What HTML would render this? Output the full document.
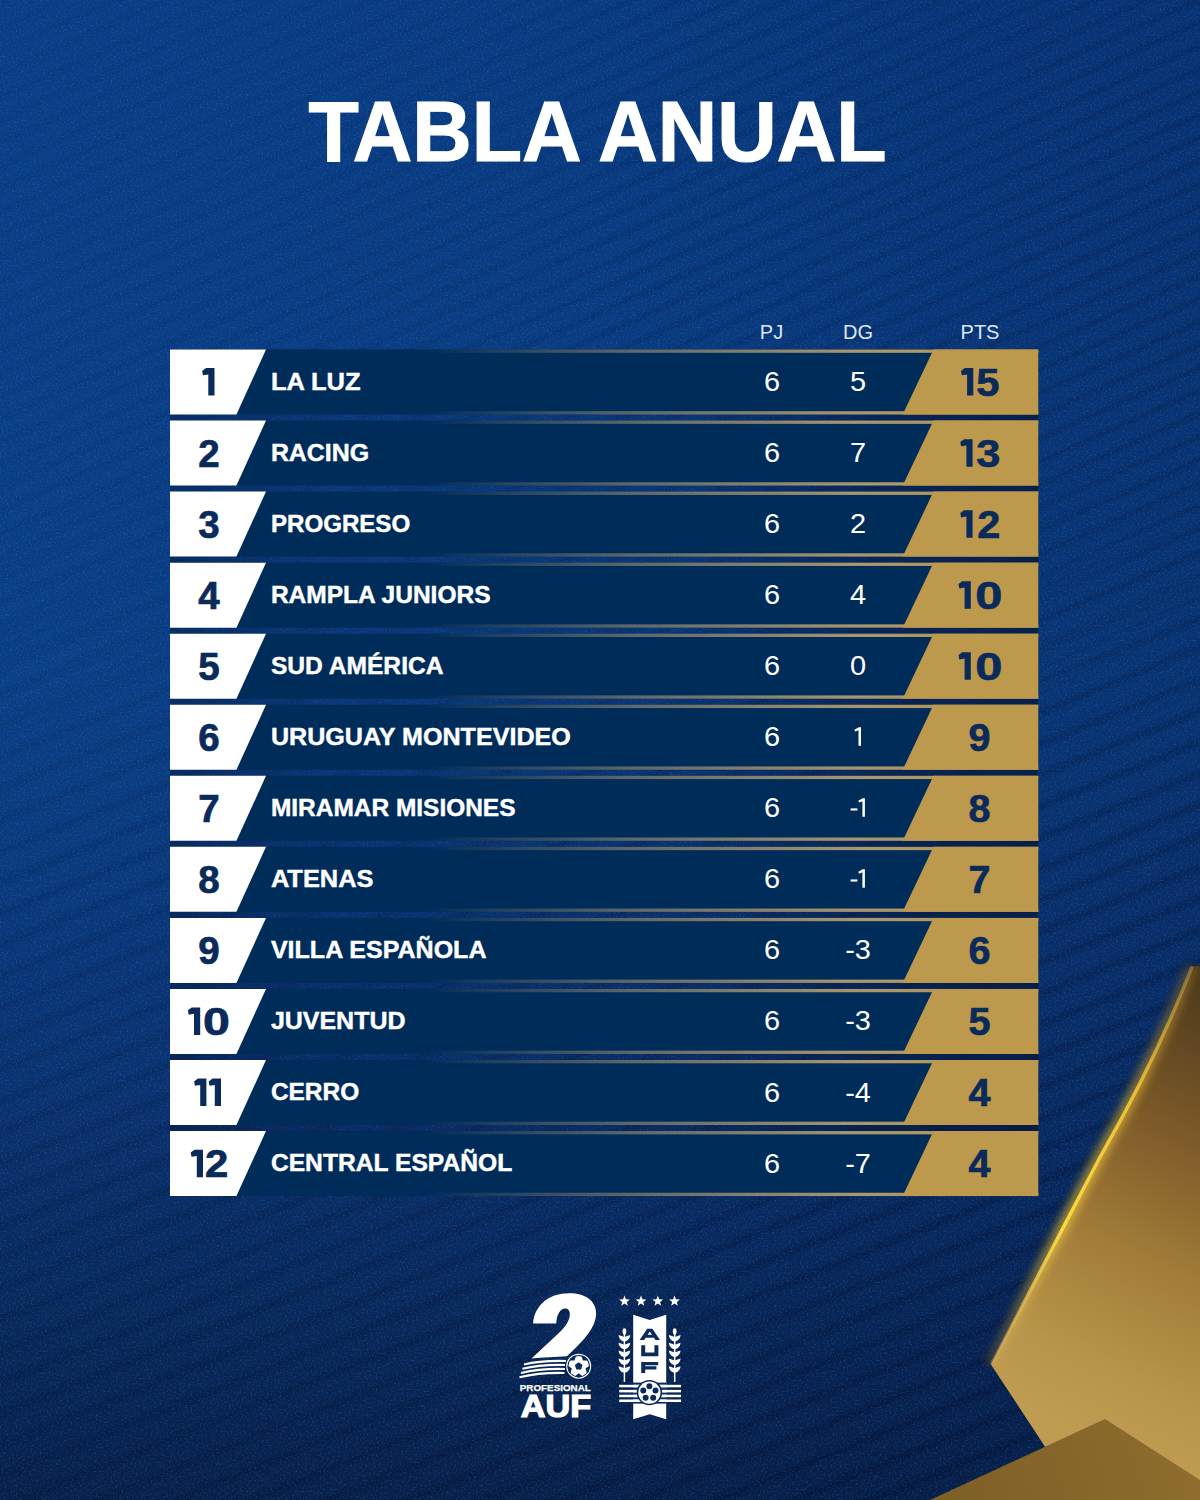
<!DOCTYPE html>
<html><head><meta charset="utf-8">
<style>
html,body{margin:0;padding:0;width:1200px;height:1500px;overflow:hidden;background:#0b3370;}
svg{display:block;}
text{font-family:"Liberation Sans",sans-serif;}
.ttl{font-weight:bold;font-size:85px;fill:#fff;stroke:#fff;stroke-width:1.2px;}
.hd{font-size:20px;fill:#dfe7f4;}
.rk{font-weight:bold;font-size:38.5px;fill:#0a2a5a;stroke:#0a2a5a;stroke-width:0.7px;}
.tm{font-weight:bold;font-size:24.6px;fill:#fff;stroke:#fff;stroke-width:0.45px;}
.dt{font-size:26.8px;fill:#fff;}
.pt{font-weight:bold;font-size:39.5px;fill:#0a2a5a;stroke:#0a2a5a;stroke-width:0.7px;}
.pf{font-weight:bold;font-size:9.5px;fill:#fff;stroke:#fff;stroke-width:0.25px;}
.auf{font-weight:bold;font-size:31px;fill:#fff;stroke:#fff;stroke-width:1.2px;}
</style></head><body>
<svg width="1200" height="1500" viewBox="0 0 1200 1500">
<defs>
<linearGradient id="bg" x1="0" y1="0" x2="0" y2="1">
<stop offset="0" stop-color="#093d86"/>
<stop offset="0.45" stop-color="#0a3f86"/>
<stop offset="0.72" stop-color="#0a3270"/>
<stop offset="1" stop-color="#07204a"/>
</linearGradient>
<linearGradient id="bgr" x1="0" y1="0" x2="1" y2="0">
<stop offset="0" stop-color="#03123a" stop-opacity="0"/>
<stop offset="0.4" stop-color="#03123a" stop-opacity="0.06"/>
<stop offset="1" stop-color="#03123a" stop-opacity="0.28"/>
</linearGradient>
<pattern id="stripes" width="1200" height="29" patternUnits="userSpaceOnUse" patternTransform="rotate(-22)">
<rect width="1200" height="29" fill="url(#stg)"/>
</pattern>
<linearGradient id="stg" x1="0" y1="0" x2="0" y2="1">
<stop offset="0" stop-color="#020c28" stop-opacity="0"/>
<stop offset="0.22" stop-color="#020c28" stop-opacity="0.34"/>
<stop offset="0.45" stop-color="#020c28" stop-opacity="0"/>
<stop offset="1" stop-color="#020c28" stop-opacity="0"/>
</linearGradient>
<linearGradient id="stm" x1="0" y1="0" x2="1" y2="1">
<stop offset="0" stop-color="#fff" stop-opacity="0.1"/>
<stop offset="0.5" stop-color="#fff" stop-opacity="0.45"/>
<stop offset="1" stop-color="#fff" stop-opacity="0.95"/>
</linearGradient>
<mask id="stmask"><rect width="1200" height="1500" fill="url(#stm)"/></mask>
<pattern id="stripes2" width="1200" height="21" patternUnits="userSpaceOnUse" patternTransform="rotate(-24)">
<rect width="1200" height="21" fill="url(#stg)"/>
</pattern>
<linearGradient id="vtop" x1="0" y1="0" x2="0" y2="1">
<stop offset="0" stop-color="#fff" stop-opacity="1"/>
<stop offset="0.3" stop-color="#fff" stop-opacity="1"/>
<stop offset="0.5" stop-color="#fff" stop-opacity="0"/>
<stop offset="1" stop-color="#fff" stop-opacity="0"/>
</linearGradient>
<linearGradient id="vbot" x1="0" y1="0" x2="0" y2="1">
<stop offset="0" stop-color="#fff" stop-opacity="0"/>
<stop offset="0.3" stop-color="#fff" stop-opacity="0"/>
<stop offset="0.5" stop-color="#fff" stop-opacity="1"/>
<stop offset="1" stop-color="#fff" stop-opacity="1"/>
</linearGradient>
<mask id="mtop"><rect width="1200" height="1500" fill="url(#vtop)"/></mask>
<mask id="mbot"><rect width="1200" height="1500" fill="url(#vbot)"/></mask>
<linearGradient id="gl" x1="0" y1="0" x2="1" y2="0">
<stop offset="0" stop-color="#bd994e" stop-opacity="0"/>
<stop offset="0.17" stop-color="#a99a78" stop-opacity="0"/>
<stop offset="0.45" stop-color="#a99a78" stop-opacity="0.55"/>
<stop offset="0.75" stop-color="#b09c70" stop-opacity="0.95"/>
<stop offset="1" stop-color="#bd994e" stop-opacity="1"/>
</linearGradient>
<linearGradient id="g1" x1="1200" y1="980" x2="1010" y2="1400" gradientUnits="userSpaceOnUse">
<stop offset="0" stop-color="#4e3a1c"/>
<stop offset="0.3" stop-color="#7a5828"/>
<stop offset="0.6" stop-color="#a27c38"/>
<stop offset="0.85" stop-color="#b8954a"/>
<stop offset="1" stop-color="#bf9c52"/>
</linearGradient>
<linearGradient id="hl" x1="1190" y1="966" x2="991" y2="1365" gradientUnits="userSpaceOnUse">
<stop offset="0" stop-color="#c89a3a" stop-opacity="0.5"/>
<stop offset="0.3" stop-color="#f5c535" stop-opacity="0.9"/>
<stop offset="0.65" stop-color="#ffd840" stop-opacity="1"/>
<stop offset="1" stop-color="#d8b060" stop-opacity="0.4"/>
</linearGradient>
<linearGradient id="g2" x1="930" y1="1500" x2="1200" y2="1420" gradientUnits="userSpaceOnUse">
<stop offset="0" stop-color="#7c5f26"/>
<stop offset="1" stop-color="#8f6e2e"/>
</linearGradient>
<filter id="noise" x="0" y="0" width="100%" height="100%">
<feTurbulence type="fractalNoise" baseFrequency="0.55" numOctaves="2" seed="3" result="t"/>
<feColorMatrix in="t" type="matrix" values="0 0 0 0 0.1  0 0 0 0 0.4  0 0 0 0 0.8  0 0 0 2.6 -1.3"/>
</filter>
<linearGradient id="bd" x1="0" y1="0" x2="1" y2="0">
<stop offset="0" stop-color="#05183c" stop-opacity="0.45"/>
<stop offset="0.2" stop-color="#05183c" stop-opacity="0.15"/>
<stop offset="0.6" stop-color="#05183c" stop-opacity="0.15"/>
<stop offset="0.85" stop-color="#05183c" stop-opacity="0.6"/>
<stop offset="1" stop-color="#05183c" stop-opacity="0.7"/>
</linearGradient>
<filter id="glow" x="-50%" y="-50%" width="200%" height="200%"><feGaussianBlur stdDeviation="4"/></filter>
</defs>
<rect width="1200" height="1500" fill="url(#bg)"/>
<rect width="1200" height="1500" fill="url(#bgr)"/>
<g mask="url(#stmask)">
<rect width="1200" height="1500" fill="url(#stripes2)" mask="url(#mtop)"/>
<rect width="1200" height="1500" fill="url(#stripes)" mask="url(#mbot)"/>
</g>
<rect width="1200" height="1500" filter="url(#noise)" opacity="0.22"/>
<rect x="170" y="349" width="868.3" height="847" fill="url(#bd)"/>
<text x="597.5" y="161" class="ttl" text-anchor="middle" textLength="578" lengthAdjust="spacingAndGlyphs">TABLA ANUAL</text>
<text x="771.5" y="339" class="hd" text-anchor="middle">PJ</text>
<text x="858" y="339" class="hd" text-anchor="middle">DG</text>
<text x="980" y="339" class="hd" text-anchor="middle">PTS</text>
<rect x="170" y="349.50" width="868.3" height="65.0" fill="#002c5a"/>
<rect x="300" y="349.50" width="738.3" height="3.3" fill="url(#gl)"/>
<rect x="300" y="411.20" width="738.3" height="3.3" fill="url(#gl)"/>
<polygon points="170,349.50 266,349.50 236.43,414.50 170,414.50" fill="#ffffff"/>
<polygon points="933.5,349.50 1038.3,349.50 1038.3,414.50 902.69,414.50" fill="#bd994e"/>
<path d="M214.5,368.1 L214.5,395.6 L208.3,395.6 L208.3,374.40000000000003 L203.0,375.3 L202.2,370.90000000000003 L206.0,368.1 Z" fill="#0a2a5a"/>
<text x="270.9" y="389.70" class="tm" textLength="89.6" lengthAdjust="spacingAndGlyphs">LA LUZ</text>
<text transform="translate(772,391.00) scale(1.08,1)" class="dt" text-anchor="middle">6</text>
<text transform="translate(858,391.00) scale(1.08,1)" class="dt" text-anchor="middle">5</text>
<path d="M973.3,368.1 L973.3,395.6 L967.0999999999999,395.6 L967.0999999999999,374.40000000000003 L961.8,375.3 L961.0,370.90000000000003 L964.8,368.1 Z" fill="#0a2a5a"/><text transform="translate(976.24,395.50) scale(1.056,1)" class="pt">5</text>
<rect x="170" y="420.55" width="868.3" height="65.0" fill="#002c5a"/>
<rect x="300" y="420.55" width="738.3" height="3.3" fill="url(#gl)"/>
<rect x="300" y="482.25" width="738.3" height="3.3" fill="url(#gl)"/>
<polygon points="170,420.55 266,420.55 236.43,485.55 170,485.55" fill="#ffffff"/>
<polygon points="933.5,420.55 1038.3,420.55 1038.3,485.55 902.69,485.55" fill="#bd994e"/>
<text x="209" y="466.55" class="rk" text-anchor="middle">2</text>
<text x="270.9" y="460.75" class="tm" textLength="98.2" lengthAdjust="spacingAndGlyphs">RACING</text>
<text transform="translate(772,462.05) scale(1.08,1)" class="dt" text-anchor="middle">6</text>
<text transform="translate(858,462.05) scale(1.08,1)" class="dt" text-anchor="middle">7</text>
<path d="M972.6,439.15 L972.6,466.65 L966.4,466.65 L966.4,445.45 L961.1,446.34999999999997 L960.3000000000001,441.95 L964.1,439.15 Z" fill="#0a2a5a"/><text transform="translate(976.20,466.55) scale(1.097,1)" class="pt">3</text>
<rect x="170" y="491.60" width="868.3" height="65.0" fill="#002c5a"/>
<rect x="300" y="491.60" width="738.3" height="3.3" fill="url(#gl)"/>
<rect x="300" y="553.30" width="738.3" height="3.3" fill="url(#gl)"/>
<polygon points="170,491.60 266,491.60 236.43,556.60 170,556.60" fill="#ffffff"/>
<polygon points="933.5,491.60 1038.3,491.60 1038.3,556.60 902.69,556.60" fill="#bd994e"/>
<text x="209" y="537.60" class="rk" text-anchor="middle">3</text>
<text x="270.9" y="531.80" class="tm" textLength="139.3" lengthAdjust="spacingAndGlyphs">PROGRESO</text>
<text transform="translate(772,533.10) scale(1.08,1)" class="dt" text-anchor="middle">6</text>
<text transform="translate(858,533.10) scale(1.08,1)" class="dt" text-anchor="middle">2</text>
<path d="M972.6,510.2 L972.6,537.7 L966.4,537.7 L966.4,516.5 L961.1,517.4 L960.3000000000001,513.0 L964.1,510.2 Z" fill="#0a2a5a"/><text transform="translate(977.15,537.60) scale(1.051,1)" class="pt">2</text>
<rect x="170" y="562.65" width="868.3" height="65.0" fill="#002c5a"/>
<rect x="300" y="562.65" width="738.3" height="3.3" fill="url(#gl)"/>
<rect x="300" y="624.35" width="738.3" height="3.3" fill="url(#gl)"/>
<polygon points="170,562.65 266,562.65 236.43,627.65 170,627.65" fill="#ffffff"/>
<polygon points="933.5,562.65 1038.3,562.65 1038.3,627.65 902.69,627.65" fill="#bd994e"/>
<text x="209" y="608.65" class="rk" text-anchor="middle">4</text>
<text x="270.9" y="602.85" class="tm" textLength="219.6" lengthAdjust="spacingAndGlyphs">RAMPLA JUNIORS</text>
<text transform="translate(772,604.15) scale(1.08,1)" class="dt" text-anchor="middle">6</text>
<text transform="translate(858,604.15) scale(1.08,1)" class="dt" text-anchor="middle">4</text>
<path d="M970.8,581.25 L970.8,608.75 L964.5999999999999,608.75 L964.5999999999999,587.55 L959.3,588.45 L958.5,584.05 L962.3,581.25 Z" fill="#0a2a5a"/><text transform="translate(975.17,608.65) scale(1.235,1)" class="pt">0</text>
<rect x="170" y="633.70" width="868.3" height="65.0" fill="#002c5a"/>
<rect x="300" y="633.70" width="738.3" height="3.3" fill="url(#gl)"/>
<rect x="300" y="695.40" width="738.3" height="3.3" fill="url(#gl)"/>
<polygon points="170,633.70 266,633.70 236.43,698.70 170,698.70" fill="#ffffff"/>
<polygon points="933.5,633.70 1038.3,633.70 1038.3,698.70 902.69,698.70" fill="#bd994e"/>
<text x="209" y="679.70" class="rk" text-anchor="middle">5</text>
<text x="270.9" y="673.90" class="tm" textLength="172.6" lengthAdjust="spacingAndGlyphs">SUD AMÉRICA</text>
<text transform="translate(772,675.20) scale(1.08,1)" class="dt" text-anchor="middle">6</text>
<text transform="translate(858,675.20) scale(1.08,1)" class="dt" text-anchor="middle">0</text>
<path d="M970.8,652.3 L970.8,679.8 L964.5999999999999,679.8 L964.5999999999999,658.5999999999999 L959.3,659.5 L958.5,655.0999999999999 L962.3,652.3 Z" fill="#0a2a5a"/><text transform="translate(975.17,679.70) scale(1.235,1)" class="pt">0</text>
<rect x="170" y="704.75" width="868.3" height="65.0" fill="#002c5a"/>
<rect x="300" y="704.75" width="738.3" height="3.3" fill="url(#gl)"/>
<rect x="300" y="766.45" width="738.3" height="3.3" fill="url(#gl)"/>
<polygon points="170,704.75 266,704.75 236.43,769.75 170,769.75" fill="#ffffff"/>
<polygon points="933.5,704.75 1038.3,704.75 1038.3,769.75 902.69,769.75" fill="#bd994e"/>
<text x="209" y="750.75" class="rk" text-anchor="middle">6</text>
<text x="270.9" y="744.95" class="tm" textLength="299.9" lengthAdjust="spacingAndGlyphs">URUGUAY MONTEVIDEO</text>
<text transform="translate(772,746.25) scale(1.08,1)" class="dt" text-anchor="middle">6</text>
<path d="M854.40,729.65 L858.80,727.25 L861.00,727.25 L861.00,745.65 L858.50,745.65 L858.50,730.25 L855.10,731.55 Z" fill="#fff"/>
<text x="979.5" y="750.75" class="pt" text-anchor="middle">9</text>
<rect x="170" y="775.80" width="868.3" height="65.0" fill="#002c5a"/>
<rect x="300" y="775.80" width="738.3" height="3.3" fill="url(#gl)"/>
<rect x="300" y="837.50" width="738.3" height="3.3" fill="url(#gl)"/>
<polygon points="170,775.80 266,775.80 236.43,840.80 170,840.80" fill="#ffffff"/>
<polygon points="933.5,775.80 1038.3,775.80 1038.3,840.80 902.69,840.80" fill="#bd994e"/>
<text x="209" y="821.80" class="rk" text-anchor="middle">7</text>
<text x="270.9" y="816.00" class="tm" textLength="244.6" lengthAdjust="spacingAndGlyphs">MIRAMAR MISIONES</text>
<text transform="translate(772,817.30) scale(1.08,1)" class="dt" text-anchor="middle">6</text>
<rect x="850.6" y="808.40" width="6.8" height="2.1" fill="#fff"/><path d="M858.30,800.70 L862.70,798.30 L864.90,798.30 L864.90,816.70 L862.40,816.70 L862.40,801.30 L859.00,802.60 Z" fill="#fff"/>
<text x="979.5" y="821.80" class="pt" text-anchor="middle">8</text>
<rect x="170" y="846.85" width="868.3" height="65.0" fill="#002c5a"/>
<rect x="300" y="846.85" width="738.3" height="3.3" fill="url(#gl)"/>
<rect x="300" y="908.55" width="738.3" height="3.3" fill="url(#gl)"/>
<polygon points="170,846.85 266,846.85 236.43,911.85 170,911.85" fill="#ffffff"/>
<polygon points="933.5,846.85 1038.3,846.85 1038.3,911.85 902.69,911.85" fill="#bd994e"/>
<text x="209" y="892.85" class="rk" text-anchor="middle">8</text>
<text x="270.9" y="887.05" class="tm" textLength="102.6" lengthAdjust="spacingAndGlyphs">ATENAS</text>
<text transform="translate(772,888.35) scale(1.08,1)" class="dt" text-anchor="middle">6</text>
<rect x="850.6" y="879.45" width="6.8" height="2.1" fill="#fff"/><path d="M858.30,871.75 L862.70,869.35 L864.90,869.35 L864.90,887.75 L862.40,887.75 L862.40,872.35 L859.00,873.65 Z" fill="#fff"/>
<text x="979.5" y="892.85" class="pt" text-anchor="middle">7</text>
<rect x="170" y="917.90" width="868.3" height="65.0" fill="#002c5a"/>
<rect x="300" y="917.90" width="738.3" height="3.3" fill="url(#gl)"/>
<rect x="300" y="979.60" width="738.3" height="3.3" fill="url(#gl)"/>
<polygon points="170,917.90 266,917.90 236.43,982.90 170,982.90" fill="#ffffff"/>
<polygon points="933.5,917.90 1038.3,917.90 1038.3,982.90 902.69,982.90" fill="#bd994e"/>
<text x="209" y="963.90" class="rk" text-anchor="middle">9</text>
<text x="270.9" y="958.10" class="tm" textLength="215.6" lengthAdjust="spacingAndGlyphs">VILLA ESPAÑOLA</text>
<text transform="translate(772,959.40) scale(1.08,1)" class="dt" text-anchor="middle">6</text>
<text transform="translate(858,959.40) scale(1.08,1)" class="dt" text-anchor="middle">-3</text>
<text x="979.5" y="963.90" class="pt" text-anchor="middle">6</text>
<rect x="170" y="988.95" width="868.3" height="65.0" fill="#002c5a"/>
<rect x="300" y="988.95" width="738.3" height="3.3" fill="url(#gl)"/>
<rect x="300" y="1050.65" width="738.3" height="3.3" fill="url(#gl)"/>
<polygon points="170,988.95 266,988.95 236.43,1053.95 170,1053.95" fill="#ffffff"/>
<polygon points="933.5,988.95 1038.3,988.95 1038.3,1053.95 902.69,1053.95" fill="#bd994e"/>
<path d="M200.2,1007.55 L200.2,1035.05 L194.0,1035.05 L194.0,1013.8499999999999 L188.7,1014.75 L187.89999999999998,1010.3499999999999 L191.7,1007.55 Z" fill="#0a2a5a"/><text transform="translate(202.94,1034.95) scale(1.255,1)" class="rk">0</text>
<text x="270.9" y="1029.15" class="tm" textLength="134.6" lengthAdjust="spacingAndGlyphs">JUVENTUD</text>
<text transform="translate(772,1030.45) scale(1.08,1)" class="dt" text-anchor="middle">6</text>
<text transform="translate(858,1030.45) scale(1.08,1)" class="dt" text-anchor="middle">-3</text>
<text x="979.5" y="1034.95" class="pt" text-anchor="middle">5</text>
<rect x="170" y="1060.00" width="868.3" height="65.0" fill="#002c5a"/>
<rect x="300" y="1060.00" width="738.3" height="3.3" fill="url(#gl)"/>
<rect x="300" y="1121.70" width="738.3" height="3.3" fill="url(#gl)"/>
<polygon points="170,1060.00 266,1060.00 236.43,1125.00 170,1125.00" fill="#ffffff"/>
<polygon points="933.5,1060.00 1038.3,1060.00 1038.3,1125.00 902.69,1125.00" fill="#bd994e"/>
<path d="M206.4,1078.6 L206.4,1106.1 L200.20000000000002,1106.1 L200.20000000000002,1084.8999999999999 L194.9,1085.8 L194.1,1081.3999999999999 L197.9,1078.6 Z" fill="#0a2a5a"/><path d="M221,1078.6 L221,1106.1 L214.8,1106.1 L214.8,1084.8999999999999 L209.5,1085.8 L208.7,1081.3999999999999 L212.5,1078.6 Z" fill="#0a2a5a"/>
<text x="270.9" y="1100.20" class="tm" textLength="88.3" lengthAdjust="spacingAndGlyphs">CERRO</text>
<text transform="translate(772,1101.50) scale(1.08,1)" class="dt" text-anchor="middle">6</text>
<text transform="translate(858,1101.50) scale(1.08,1)" class="dt" text-anchor="middle">-4</text>
<text x="979.5" y="1106.00" class="pt" text-anchor="middle">4</text>
<rect x="170" y="1131.05" width="868.3" height="65.0" fill="#002c5a"/>
<rect x="300" y="1131.05" width="738.3" height="3.3" fill="url(#gl)"/>
<rect x="300" y="1192.75" width="738.3" height="3.3" fill="url(#gl)"/>
<polygon points="170,1131.05 266,1131.05 236.43,1196.05 170,1196.05" fill="#ffffff"/>
<polygon points="933.5,1131.05 1038.3,1131.05 1038.3,1196.05 902.69,1196.05" fill="#bd994e"/>
<path d="M203,1149.65 L203,1177.15 L196.8,1177.15 L196.8,1155.95 L191.5,1156.8500000000001 L190.7,1152.45 L194.5,1149.65 Z" fill="#0a2a5a"/><text transform="translate(204.91,1177.05) scale(1.087,1)" class="rk">2</text>
<text x="270.9" y="1171.25" class="tm" textLength="241.3" lengthAdjust="spacingAndGlyphs">CENTRAL ESPAÑOL</text>
<text transform="translate(772,1172.55) scale(1.08,1)" class="dt" text-anchor="middle">6</text>
<text transform="translate(858,1172.55) scale(1.08,1)" class="dt" text-anchor="middle">-7</text>
<text x="979.5" y="1177.05" class="pt" text-anchor="middle">4</text>
<path d="M1192.7,966.5 Q1157,1059 1101,1155.3 L991,1364.4" stroke="#020a20" stroke-width="16" fill="none" filter="url(#glow)" opacity="0.45"/>
<path d="M1189,966 L1200,966 L1200,1500 L1080,1500 L991,1364.4 L1101,1155.3 Q1157,1059 1192.7,966.5 Z" fill="url(#g1)"/>
<path d="M1191,966.5 Q1155.5,1059 1100,1155.3 L990,1364.4" stroke="url(#hl)" stroke-width="12" fill="none" filter="url(#glow)" opacity="0.6"/>
<path d="M1192,966.5 Q1156.5,1059 1101,1155.3 L991.5,1364.4" stroke="url(#hl)" stroke-width="3.4" fill="none" stroke-linejoin="round"/>
<polygon points="1105,1419 1200,1480 1200,1500 930,1500" fill="url(#g2)"/>

<path d="M533.1,1323.6 C534,1308 546,1293.3 569,1293.2 C588,1293 596.5,1303 596.1,1314 C595.7,1329 581,1343 567,1356.3 C556,1357 543,1357.5 531.5,1358.6 L559.9,1332 C566,1326 569.8,1320 569.8,1314.5 C569.8,1310.5 567.8,1308.6 565.2,1308.6 C560.5,1308.6 556.8,1314 556.2,1323.6 Z" fill="#fff"/>
<g fill="none" stroke="#fff" stroke-width="2.2">
<path d="M524,1364.5 C538,1361 552,1360.6 566,1361"/>
<path d="M522.5,1368.8 C537,1365.2 551,1364.6 565,1365"/>
<path d="M521,1373 C536,1369.4 550,1368.6 565,1369"/>
<path d="M519.5,1377.3 C535,1373.6 549,1372.6 564.5,1373"/>
</g>
<clipPath id="bc578"><circle cx="578.7" cy="1366.2" r="11.2"/></clipPath>
<circle cx="578.7" cy="1366.2" r="12.5" fill="#fff"/>
<circle cx="578.7" cy="1366.2" r="11.2" fill="#0b2a5c"/>
<circle cx="578.7" cy="1366.2" r="10.299999999999999" fill="#fff"/>
<polygon points="578.70,1362.17 582.53,1364.95 581.07,1369.46 576.33,1369.46 574.87,1364.95" fill="#0b2a5c"/>
<g clip-path="url(#bc578)">
<polygon points="582.91,1360.40 581.45,1355.89 585.28,1353.11 589.12,1355.89 587.65,1360.40" fill="#0b2a5c"/>
<polygon points="585.52,1368.42 589.35,1365.63 593.19,1368.42 591.72,1372.92 586.98,1372.92" fill="#0b2a5c"/>
<polygon points="578.70,1373.37 582.53,1376.15 581.07,1380.66 576.33,1380.66 574.87,1376.15" fill="#0b2a5c"/>
<polygon points="571.88,1368.42 570.42,1372.92 565.68,1372.92 564.21,1368.42 568.05,1365.63" fill="#0b2a5c"/>
<polygon points="574.49,1360.40 569.75,1360.40 568.28,1355.89 572.12,1353.11 575.95,1355.89" fill="#0b2a5c"/>
</g>
<text x="555.3" y="1391.3" class="pf" text-anchor="middle" textLength="71" lengthAdjust="spacingAndGlyphs">PROFESIONAL</text>
<text x="556" y="1417.4" class="auf" text-anchor="middle" textLength="70.5" lengthAdjust="spacingAndGlyphs">AUF</text>


<polygon points="624.50,1295.50 625.91,1299.26 629.92,1299.44 626.78,1301.94 627.85,1305.81 624.50,1303.59 621.15,1305.81 622.22,1301.94 619.08,1299.44 623.09,1299.26" fill="#fff"/><polygon points="641.00,1295.50 642.41,1299.26 646.42,1299.44 643.28,1301.94 644.35,1305.81 641.00,1303.59 637.65,1305.81 638.72,1301.94 635.58,1299.44 639.59,1299.26" fill="#fff"/><polygon points="657.80,1295.50 659.21,1299.26 663.22,1299.44 660.08,1301.94 661.15,1305.81 657.80,1303.59 654.45,1305.81 655.52,1301.94 652.38,1299.44 656.39,1299.26" fill="#fff"/><polygon points="674.50,1295.50 675.91,1299.26 679.92,1299.44 676.78,1301.94 677.85,1305.81 674.50,1303.59 671.15,1305.81 672.22,1301.94 669.08,1299.44 673.09,1299.26" fill="#fff"/>
<polygon points="633.2,1314.7 649.7,1319.9 666.2,1314.7 666.2,1419.3 649.7,1414.2 633.2,1419.3" fill="#fff"/>
<path fill-rule="evenodd" fill="#0b2a5c" d="M639.6,1340 L647.2,1328.8 L652.4,1328.8 L660,1340 L655.4,1340 L654,1337.8 L645.6,1337.8 L644.2,1340 Z M647.6,1334.8 L652,1334.8 L649.8,1331.4 Z"/>
<path fill="#0b2a5c" d="M641.2,1345.2 L645.2,1345.2 L645.2,1352.4 L654.4,1352.4 L654.4,1345.2 L658.4,1345.2 L658.4,1356.2 L641.2,1356.2 Z"/>
<path fill="#0b2a5c" d="M641.2,1362 L658.2,1362 L658.2,1365.3 L645.2,1365.3 L645.2,1366.2 L656.4,1366.2 L656.4,1369.4 L645.2,1369.4 L645.2,1373 L641.2,1373 Z"/>
<line x1="624.4" y1="1331" x2="624.4" y2="1382" stroke="#fff" stroke-width="1.5"/>
<ellipse cx="624.4" cy="1331.4" rx="1.9" ry="3.1" fill="#fff"/>
<path d="M618.6,1335 C618.8,1339.2 622.0,1341.2 624.4,1341.4 C626.8,1341.2 630.0,1339.2 630.1999999999999,1335 C628.4,1335.6 626.0,1336.2 624.4,1337.2 C622.8,1336.2 620.4,1335.6 618.6,1335 Z" fill="#fff"/>
<path d="M618.6,1342.8 C618.8,1347.0 622.0,1349.0 624.4,1349.2 C626.8,1349.0 630.0,1347.0 630.1999999999999,1342.8 C628.4,1343.3999999999999 626.0,1344.0 624.4,1345.0 C622.8,1344.0 620.4,1343.3999999999999 618.6,1342.8 Z" fill="#fff"/>
<path d="M618.6,1350.6 C618.8,1354.8 622.0,1356.8 624.4,1357.0 C626.8,1356.8 630.0,1354.8 630.1999999999999,1350.6 C628.4,1351.1999999999998 626.0,1351.8 624.4,1352.8 C622.8,1351.8 620.4,1351.1999999999998 618.6,1350.6 Z" fill="#fff"/>
<path d="M618.6,1358.4 C618.8,1362.6000000000001 622.0,1364.6000000000001 624.4,1364.8000000000002 C626.8,1364.6000000000001 630.0,1362.6000000000001 630.1999999999999,1358.4 C628.4,1359.0 626.0,1359.6000000000001 624.4,1360.6000000000001 C622.8,1359.6000000000001 620.4,1359.0 618.6,1358.4 Z" fill="#fff"/>
<path d="M618.6,1366.2 C618.8,1370.4 622.0,1372.4 624.4,1372.6000000000001 C626.8,1372.4 630.0,1370.4 630.1999999999999,1366.2 C628.4,1366.8 626.0,1367.4 624.4,1368.4 C622.8,1367.4 620.4,1366.8 618.6,1366.2 Z" fill="#fff"/>
<line x1="674.7" y1="1331" x2="674.7" y2="1382" stroke="#fff" stroke-width="1.5"/>
<ellipse cx="674.7" cy="1331.4" rx="1.9" ry="3.1" fill="#fff"/>
<path d="M668.9000000000001,1335 C669.1,1339.2 672.3000000000001,1341.2 674.7,1341.4 C677.1,1341.2 680.3000000000001,1339.2 680.5,1335 C678.7,1335.6 676.3000000000001,1336.2 674.7,1337.2 C673.1,1336.2 670.7,1335.6 668.9000000000001,1335 Z" fill="#fff"/>
<path d="M668.9000000000001,1342.8 C669.1,1347.0 672.3000000000001,1349.0 674.7,1349.2 C677.1,1349.0 680.3000000000001,1347.0 680.5,1342.8 C678.7,1343.3999999999999 676.3000000000001,1344.0 674.7,1345.0 C673.1,1344.0 670.7,1343.3999999999999 668.9000000000001,1342.8 Z" fill="#fff"/>
<path d="M668.9000000000001,1350.6 C669.1,1354.8 672.3000000000001,1356.8 674.7,1357.0 C677.1,1356.8 680.3000000000001,1354.8 680.5,1350.6 C678.7,1351.1999999999998 676.3000000000001,1351.8 674.7,1352.8 C673.1,1351.8 670.7,1351.1999999999998 668.9000000000001,1350.6 Z" fill="#fff"/>
<path d="M668.9000000000001,1358.4 C669.1,1362.6000000000001 672.3000000000001,1364.6000000000001 674.7,1364.8000000000002 C677.1,1364.6000000000001 680.3000000000001,1362.6000000000001 680.5,1358.4 C678.7,1359.0 676.3000000000001,1359.6000000000001 674.7,1360.6000000000001 C673.1,1359.6000000000001 670.7,1359.0 668.9000000000001,1358.4 Z" fill="#fff"/>
<path d="M668.9000000000001,1366.2 C669.1,1370.4 672.3000000000001,1372.4 674.7,1372.6000000000001 C677.1,1372.4 680.3000000000001,1370.4 680.5,1366.2 C678.7,1366.8 676.3000000000001,1367.4 674.7,1368.4 C673.1,1367.4 670.7,1366.8 668.9000000000001,1366.2 Z" fill="#fff"/>
<g fill="#0b2a5c">
<rect x="633" y="1387.3" width="33.4" height="2.6"/>
<rect x="633" y="1392.4" width="33.4" height="2.3"/>
<rect x="633" y="1397.2" width="33.4" height="2.3"/>
<rect x="633" y="1402" width="33.4" height="1.6"/>
<rect x="633" y="1382.6" width="33.4" height="2.2"/>
</g>
<g fill="#fff">
<rect x="619.2" y="1384.8" width="61.8" height="2.5"/>
<rect x="619.2" y="1389.9" width="61.8" height="2.5"/>
<rect x="619.2" y="1394.7" width="61.8" height="2.5"/>
<rect x="619.2" y="1399.5" width="61.8" height="2.5"/>
</g>
<circle cx="649.4" cy="1392.6" r="12.7" fill="#0b2a5c"/>
<circle cx="649.4" cy="1392.6" r="11.1" fill="#fff"/>
<circle cx="649.40" cy="1386.16" r="3.00" fill="#0b2a5c"/>
<circle cx="655.52" cy="1390.61" r="3.00" fill="#0b2a5c"/>
<circle cx="653.18" cy="1397.81" r="3.00" fill="#0b2a5c"/>
<circle cx="645.62" cy="1397.81" r="3.00" fill="#0b2a5c"/>
<circle cx="643.28" cy="1390.61" r="3.00" fill="#0b2a5c"/>

</svg>
</body></html>
